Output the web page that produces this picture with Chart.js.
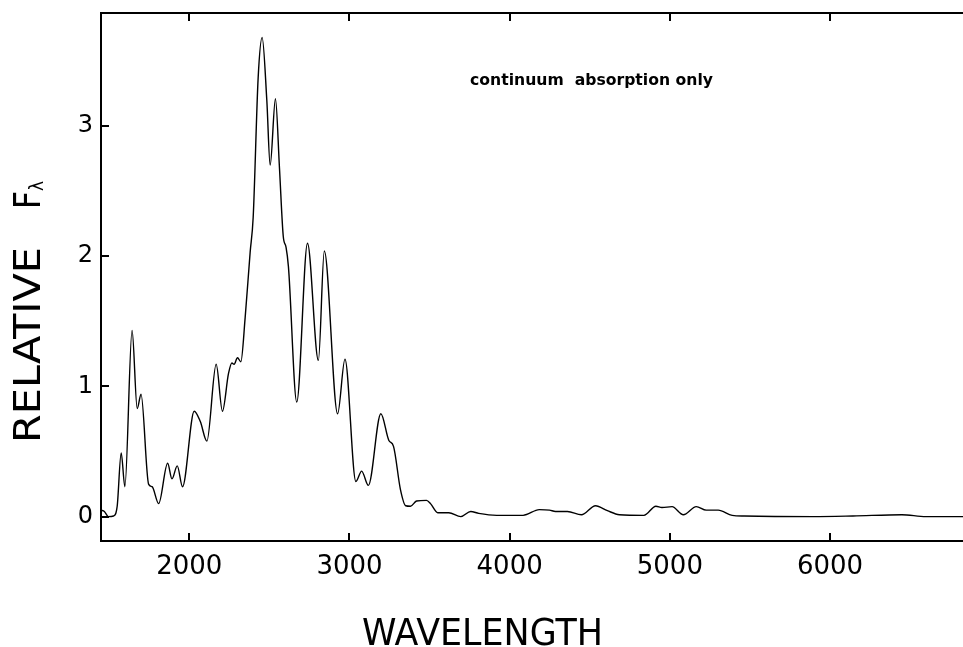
<!DOCTYPE html>
<html>
<head>
<meta charset="utf-8">
<script src="https://cdn.jsdelivr.net/npm/chart.js@4.4.0/dist/chart.umd.min.js"></script>
<style>
    html, body { margin: 0; padding: 0; background: #fff; overflow: hidden; }
    #wrap { width: 963px; height: 647px; }
</style>
</head>
<body>
<div id="wrap"><canvas id="spectrumChart" width="963" height="647"></canvas></div>
<script>
// wavelength (A) and relative F_lambda
const wavelength = [
    1450, 1470, 1495, 1527, 1550, 1575, 1598, 1643, 1675, 1699,
    1746, 1768, 1809, 1865, 1892, 1925, 1958, 2031, 2069, 2110,
    2168, 2207, 2245, 2266, 2280, 2301, 2322, 2349, 2380, 2399,
    2430, 2455, 2484, 2505, 2538, 2563, 2587, 2604, 2619, 2671,
    2738, 2806, 2843, 2926, 2972, 3040, 3076, 3118, 3196, 3246,
    3275, 3318, 3351, 3381, 3419, 3481, 3506, 3551, 3620, 3695,
    3757, 3807, 3919, 4084, 4185, 4249, 4286, 4361, 4448, 4536,
    4610, 4685, 4838, 4913, 4951, 5014, 5084, 5165, 5227, 5302,
    5389, 5464, 5894, 6143, 6448, 6598, 6830
];
const relativeFlux = [
    0.05, 0.04, 0.0, 0.005, 0.08, 0.49, 0.23, 1.43, 0.83, 0.94,
    0.25, 0.23, 0.10, 0.41, 0.29, 0.39, 0.23, 0.81, 0.73, 0.58,
    1.17, 0.81, 1.10, 1.18, 1.17, 1.22, 1.19, 1.53, 2.03, 2.30,
    3.37, 3.68, 3.2, 2.70, 3.21, 2.68, 2.15, 2.07, 1.92, 0.88,
    2.10, 1.20, 2.04, 0.79, 1.21, 0.27, 0.35, 0.24, 0.79, 0.585,
    0.54, 0.21, 0.084, 0.08, 0.12, 0.125, 0.10, 0.03, 0.03, 0.0,
    0.04, 0.025, 0.01, 0.01, 0.054, 0.05, 0.04, 0.04, 0.015, 0.084,
    0.046, 0.015, 0.01, 0.08, 0.07, 0.077, 0.015, 0.077, 0.05, 0.05,
    0.01, 0.005, 0.0, 0.005, 0.015, 0.0, 0.0
];
const xTicks = [2000, 3000, 4000, 5000, 6000];
const yTicks = [0, 1, 2, 3];
const xTitle = "WAVELENGTH";
const yTitle = "RELATIVE";
const yTitleSymbol = "F";
const yTitleSub = "λ";
const noteText = "continuum  absorption only";

document.addEventListener("DOMContentLoaded", function () {
    // draw text squeezed/stretched to a given width
    function fitText(ctx, text, x, y, width) {
        const w = ctx.measureText(text).width;
        ctx.save();
        ctx.translate(x, y);
        ctx.scale(width / w, 1);
        ctx.fillText(text, 0, 0);
        ctx.restore();
    }

    // no extra padding from tick labels, fixed box size
    function fixBox(size, horizontal) {
        return s => {
            if (horizontal) s.height = size; else s.width = size;
            s.paddingTop = 0;
            s.paddingBottom = 0;
            s.paddingLeft = 0;
            s.paddingRight = 0;
        };
    }

    // inward tick marks + titles + note
    const decorations = {
        id: 'decorations',
        afterDraw(chart) {
            const ctx = chart.ctx;
            const area = chart.chartArea;
            const xs = chart.scales.x;
            const ys = chart.scales.y;
            ctx.save();
            ctx.strokeStyle = '#000';
            ctx.lineWidth = 2;
            ctx.beginPath();
            xs.ticks.forEach(t => {
                const px = Math.round(xs.getPixelForValue(t.value));
                ctx.moveTo(px, area.bottom);
                ctx.lineTo(px, area.bottom - 8);
                ctx.moveTo(px, area.top);
                ctx.lineTo(px, area.top + 8);
            });
            ys.ticks.forEach(t => {
                const py = Math.round(ys.getPixelForValue(t.value));
                ctx.moveTo(area.left, py);
                ctx.lineTo(area.left + 8, py);
            });
            ctx.stroke();

            ctx.fillStyle = '#000';
            ctx.textBaseline = 'alphabetic';
            ctx.textAlign = 'left';

            // x title
            ctx.font = '37px "DejaVu Sans"';
            fitText(ctx, xTitle, 362, 645, 241);

            // y title, rotated
            ctx.save();
            ctx.translate(40, 443);
            ctx.rotate(-Math.PI / 2);
            ctx.font = '37px "DejaVu Sans"';
            fitText(ctx, yTitle, 0, 0, 196);
            fitText(ctx, yTitleSymbol, 234, 0, 18);
            ctx.font = '19px "DejaVu Sans"';
            fitText(ctx, yTitleSub, 252, 3, 10);
            ctx.restore();

            // annotation
            ctx.font = 'bold 16px "DejaVu Sans"';
            fitText(ctx, noteText, 470, 85, 243);
            ctx.restore();
        }
    };

    const ctx = document.getElementById('spectrumChart').getContext('2d');
    new Chart(ctx, {
        type: 'line',
        data: {
            datasets: [{
                data: wavelength.map((w, i) => ({ x: w, y: relativeFlux[i] })),
                borderColor: '#000',
                borderWidth: 1.4,
                pointRadius: 0,
                fill: false,
                cubicInterpolationMode: 'monotone'
            }]
        },
        options: {
            responsive: false,
            animation: false,
            devicePixelRatio: 1,
            layout: { padding: 0 },
            plugins: {
                legend: { display: false },
                tooltip: { enabled: false }
            },
            scales: {
                x: {
                    type: 'linear',
                    position: 'bottom',
                    min: 1449,
                    max: 6830,
                    afterBuildTicks: s => { s.ticks = xTicks.map(v => ({ value: v })); },
                    afterFit: fixBox(106, true),
                    grid: { display: true, drawOnChartArea: false, drawTicks: false },
                    border: { display: true, color: '#000', width: 2 },
                    ticks: {
                        color: '#000',
                        padding: 11,
                        maxRotation: 0,
                        font: { family: 'DejaVu Sans', size: 26 },
                        callback: v => String(v)
                    }
                },
                xTop: {
                    type: 'linear',
                    position: 'top',
                    min: 1449,
                    max: 6830,
                    afterFit: fixBox(13, true),
                    grid: { display: true, drawOnChartArea: false, drawTicks: false },
                    border: { display: true, color: '#000', width: 2 },
                    ticks: { display: false }
                },
                y: {
                    type: 'linear',
                    min: -0.187,
                    max: 3.868,
                    afterBuildTicks: s => { s.ticks = yTicks.map(v => ({ value: v })); },
                    afterFit: fixBox(101, false),
                    grid: { display: true, drawOnChartArea: false, drawTicks: false },
                    border: { display: true, color: '#000', width: 2 },
                    ticks: {
                        color: '#000',
                        padding: 8,
                        font: { family: 'DejaVu Sans', size: 24 },
                        callback: v => String(v)
                    }
                }
            }
        },
        plugins: [decorations]
    });
});
</script>
</body>
</html>
